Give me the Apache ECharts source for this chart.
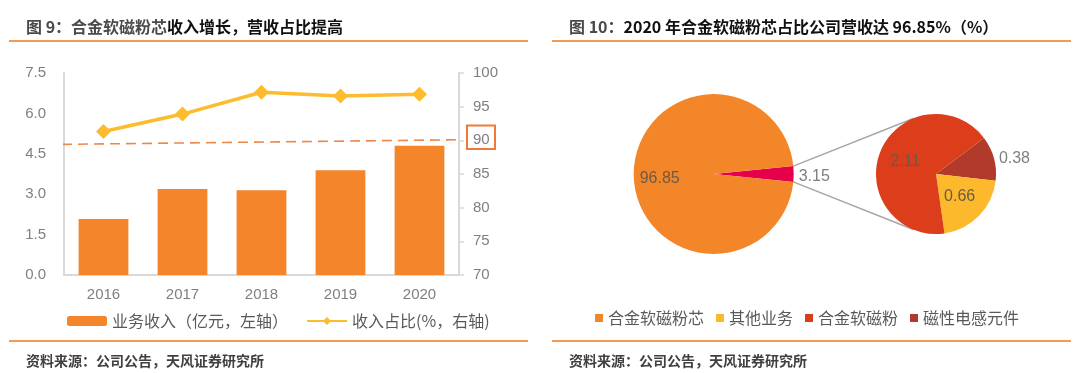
<!DOCTYPE html>
<html>
<head>
<meta charset="utf-8">
<script src="https://cdn.jsdelivr.net/npm/echarts@6/dist/echarts.min.js"></script>
<style>html,body{margin:0;padding:0;background:#fff}#c{width:1080px;height:373px}</style>
</head>
<body>
<div id="c"></div>
<script>
// ---- data ----
const years = ['2016', '2017', '2018', '2019', '2020'];
const revenue = [2.08, 3.19, 3.15, 3.89, 4.80];          // 业务收入（亿元，左轴）
const share = [91.3, 93.9, 97.15, 96.6, 96.85];            // 收入占比(%，右轴)
const leftTicks = [0, 7.5, 1.5];                            // min, max, interval
const rightTicks = [70, 100, 5];
const refLine = [[-0.005, 89.4], [1.02, 90.1]];             // dashed annotation (hidden x 0..1, right axis)
const mainNames = ['合金软磁粉芯', '其他'];
const mainValues = [96.85, 3.15];
const subNames = ['磁性电感元件', '其他业务', '合金软磁粉'];
const subValues = [0.38, 0.66, 2.11];
const legendRight = ['合金软磁粉芯', '其他业务', '合金软磁粉', '磁性电感元件'];

// ---- layout ----
const FONT = '"Noto Sans CJK SC", "Liberation Sans", sans-serif';
const NUM = '"Liberation Sans", "Noto Sans", sans-serif';
const C1 = [713.7, 174], R1 = 80;
const C2 = [936, 174], R2 = 60;
const colors = {
  bar: '#F4852A', line: '#FCBC2D', dash: '#F0874A',
  core: '#F4862A', other: '#E6004C', powder: '#DC3D1B', yellow: '#FBB92B', dark: '#B23A2A'
};
const subColors = [colors.dark, colors.yellow, colors.powder];
const subLabelOut = [true, false, false];

const chart = echarts.init(document.getElementById('c'));

const totalMain = mainValues.reduce((a, b) => a + b, 0);
const otherVal = mainValues[1];
const halfAng = otherVal / totalMain * 360 / 2;   // wedge centred at 3 o'clock

// tangent connector lines from wedge corners to sub pie
function tangent(P, sign) {
  const dx = P[0] - C2[0], dy = -(P[1] - C2[1]);
  const d = Math.sqrt(dx * dx + dy * dy);
  const th = Math.atan2(dy, dx);
  const t = th + sign * Math.acos(R2 / d);
  return [C2[0] + R2 * Math.cos(t), C2[1] - R2 * Math.sin(t)];
}
const a = halfAng * Math.PI / 180;
const P1 = [C1[0] + R1 * Math.cos(a), C1[1] - R1 * Math.sin(a)];
const P2 = [C1[0] + R1 * Math.cos(a), C1[1] + R1 * Math.sin(a)];
const T1 = tangent(P1, -1);
const T2 = tangent(P2, 1);

const option = {
  animation: false,
  textStyle: { fontFamily: FONT },
  title: [
    {
      text: '{a|图 9：合金软磁粉芯}{b|收入增长，营收占比提高}',
      left: 21, top: 14,
      textStyle: { rich: {
        a: { fontSize: 16, fontWeight: 'bold', color: '#4a4a4a', fontFamily: FONT },
        b: { fontSize: 16, fontWeight: 'bold', color: '#111', fontFamily: FONT }
      } }
    },
    {
      text: '{a|图 10：}{b|2020 年合金软磁粉芯占比公司营收达 96.85%（%）}',
      left: 564, top: 14,
      textStyle: { rich: {
        a: { fontSize: 16, fontWeight: 'bold', color: '#4a4a4a', fontFamily: FONT },
        b: { fontSize: 16, fontWeight: 'bold', color: '#111', fontFamily: FONT }
      } }
    },
    { text: '资料来源：公司公告，天风证券研究所', left: 21, top: 349,
      textStyle: { fontSize: 14, fontWeight: 'bold', color: '#404040', fontFamily: FONT } },
    { text: '资料来源：公司公告，天风证券研究所', left: 564, top: 349,
      textStyle: { fontSize: 14, fontWeight: 'bold', color: '#404040', fontFamily: FONT } }
  ],
  legend: [
    {
      data: ['业务收入（亿元，左轴）', '收入占比(%，右轴)'],
      left: 62, top: 308, itemWidth: 40, itemHeight: 10, itemGap: 18,
      textStyle: { fontSize: 16, color: '#595959', fontFamily: FONT }
    },
    {
      data: legendRight.map(n => ({ name: n, icon: 'rect' })),
      left: 590, top: 305, itemWidth: 8, itemHeight: 8, itemGap: 12,
      textStyle: { fontSize: 16, color: '#595959', fontFamily: FONT }
    }
  ],
  grid: [
    { left: 64, right: 1080 - 459, top: 73, bottom: 373 - 275 }
  ],
  xAxis: [
    {
      type: 'category', data: years, gridIndex: 0,
      axisLine: { lineStyle: { color: '#D9D9D9', width: 2 } },
      axisTick: { show: false },
      axisLabel: { fontSize: 15, color: '#7F7F7F', margin: 12, fontFamily: NUM }
    },
    { type: 'value', gridIndex: 0, min: 0, max: 1, show: false }
  ],
  yAxis: [
    {
      type: 'value', min: leftTicks[0], max: leftTicks[1], interval: leftTicks[2],
      axisLine: { show: true, lineStyle: { color: '#D9D9D9', width: 2 } },
      axisTick: { show: false }, splitLine: { show: false },
      axisLabel: { fontSize: 15, color: '#7F7F7F', margin: 18, fontFamily: NUM,
        formatter: v => v.toFixed(1) }
    },
    {
      type: 'value', min: rightTicks[0], max: rightTicks[1], interval: rightTicks[2],
      position: 'right',
      axisLine: { show: true, lineStyle: { color: '#D9D9D9', width: 2 } },
      axisTick: { show: true, length: 5, lineStyle: { color: '#D9D9D9', width: 1.5 } },
      splitLine: { show: false },
      axisLabel: { fontSize: 15, color: '#7F7F7F', margin: 14, fontFamily: NUM }
    }
  ],
  series: [
    {
      name: '业务收入（亿元，左轴）', type: 'bar', data: revenue, barWidth: '63%',
      itemStyle: { color: colors.bar }
    },
    {
      name: '收入占比(%，右轴)', type: 'line', yAxisIndex: 1, data: share,
      symbol: 'diamond', symbolSize: 15,
      lineStyle: { color: colors.line, width: 3.5 },
      itemStyle: { color: colors.line }
    },
    {
      name: 'ref', type: 'line', xAxisIndex: 1, yAxisIndex: 1, data: refLine,
      symbol: 'none', clip: false, silent: true,
      lineStyle: { color: colors.dash, width: 1.6, type: [10, 6] }
    },
    {
      name: 'main', type: 'pie', center: C1, radius: R1, startAngle: halfAng,
      clockwise: true, silent: true, z: 3,
      label: { fontFamily: NUM, fontSize: 16 },
      labelLine: { show: false, length: 0, length2: 0 },
      data: [
        { name: mainNames[1], value: mainValues[1], itemStyle: { color: colors.other },
          label: { position: 'outside', formatter: '{c}', color: '#7F7F7F', offset: [0, 3] } },
        { name: mainNames[0], value: mainValues[0], itemStyle: { color: colors.core },
          label: { position: 'inside', formatter: '{c}', color: '#6b5a4a', offset: [-11, 5] } }
      ]
    },
    {
      name: 'sub', type: 'pie', center: C2, radius: R2, startAngle: 37,
      clockwise: true, silent: true, z: 3,
      label: { fontFamily: NUM, fontSize: 16 },
      labelLine: { show: false, length: 0, length2: 0 },
      data: subNames.map((n, i) => ({
        name: n, value: subValues[i], itemStyle: { color: subColors[i] },
        label: subLabelOut[i]
          ? { position: 'outside', formatter: '{c}', color: '#7F7F7F' }
          : { position: 'inside', formatter: '{c}', color: '#6b5a4a' }
      }))
    }
  ],
  graphic: [
    { type: 'line', shape: { x1: 9, y1: 41, x2: 528, y2: 41 }, style: { stroke: '#F39B55', lineWidth: 2 } },
    { type: 'line', shape: { x1: 552, y1: 41, x2: 1071, y2: 41 }, style: { stroke: '#F39B55', lineWidth: 2 } },
    { type: 'line', shape: { x1: 9, y1: 341, x2: 528, y2: 341 }, style: { stroke: '#F39B55', lineWidth: 2 } },
    { type: 'line', shape: { x1: 552, y1: 341, x2: 1071, y2: 341 }, style: { stroke: '#F39B55', lineWidth: 2 } },
    { type: 'rect', shape: { x: 467, y: 125.5, width: 28, height: 23.5 },
      style: { fill: 'none', stroke: '#F07A35', lineWidth: 2 }, z: 10 },
    { type: 'line', shape: { x1: P1[0], y1: P1[1], x2: T1[0], y2: T1[1] },
      style: { stroke: '#A6A6A6', lineWidth: 1.5 }, z: 1 },
    { type: 'line', shape: { x1: P2[0], y1: P2[1], x2: T2[0], y2: T2[1] },
      style: { stroke: '#A6A6A6', lineWidth: 1.5 }, z: 1 }
  ]
};
chart.setOption(option);
</script>
</body>
</html>
